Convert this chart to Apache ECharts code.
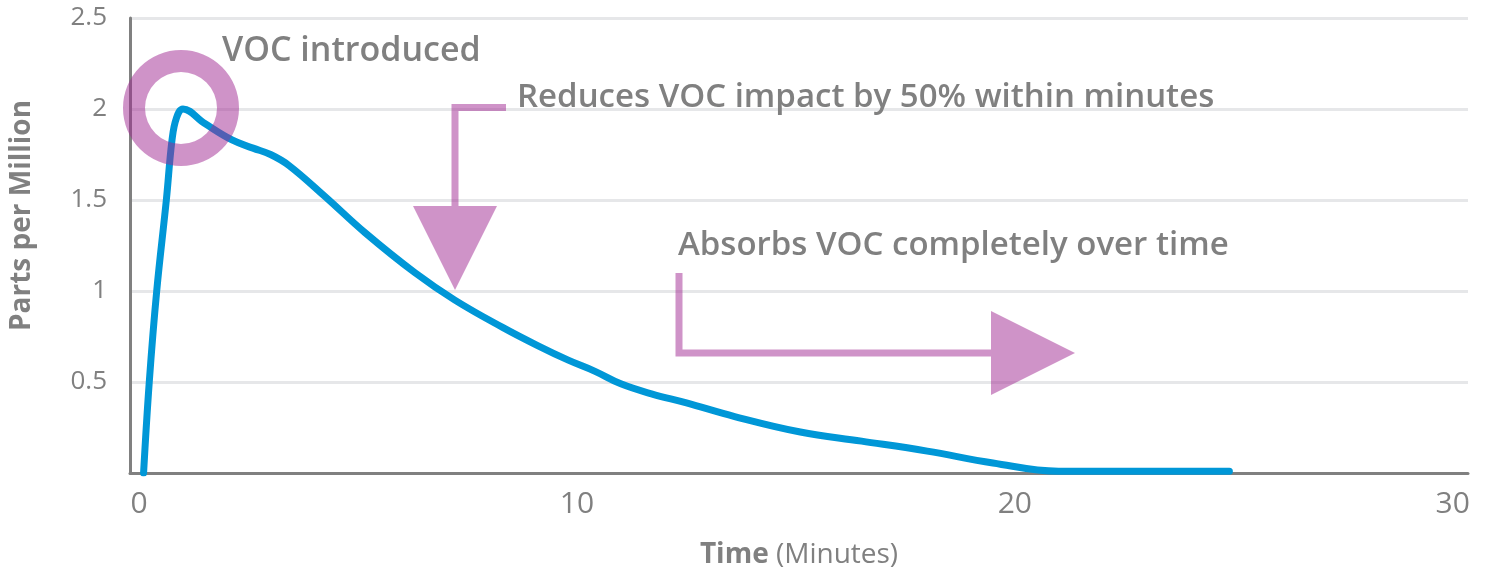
<!DOCTYPE html>
<html>
<head>
<meta charset="utf-8">
<script src="https://cdn.jsdelivr.net/npm/echarts@6/dist/echarts.min.js"></script>
<style>
  html, body { margin: 0; padding: 0; background: #fff; }
  #chart { width: 1486px; height: 574px; }
</style>
</head>
<body>
<div id="chart"></div>
<script>
// time in minutes / parts per million
const timeMin = [0.1, 0.23, 0.4, 0.62, 0.75, 0.85, 1.0, 1.5, 2.12, 2.6, 3.0, 3.42, 4.24, 5.16, 6.3, 7.21, 8.3, 9.1, 9.8, 10.4, 11.0, 11.7, 12.5, 13.6, 15.1, 16.5, 18.0, 19.5, 21.0, 24.9]
const ppm = [0, 0.5, 1.0, 1.5, 1.83, 1.95, 2.0, 1.92, 1.83, 1.785, 1.75, 1.69, 1.52, 1.32, 1.10, 0.95, 0.80, 0.70, 0.62, 0.56, 0.49, 0.435, 0.385, 0.31, 0.225, 0.175, 0.12, 0.055, 0.01, 0.01]
const xTicks = [0, 10, 20, 30]
const notes = ['VOC introduced', 'Reduces VOC impact by 50% within minutes', 'Absorbs VOC completely over time']

const gray = '#808080'
const pink = 'rgba(160,40,145,0.5)'
const font = 'Open Sans'

const chart = echarts.init(document.getElementById('chart'))

const series = timeMin.map((t, i) => [t, ppm[i]])

chart.setOption({
  animation: false,
  textStyle: { fontFamily: font },
  grid: { left: 128, right: 18, top: 18, bottom: 101 },
  xAxis: {
    type: 'value',
    min: -0.21,
    max: 30.35,
    name: '{b|Time} (Minutes)',
    nameLocation: 'middle',
    nameGap: 68,
    nameTextStyle: {
      color: gray, fontSize: 28, fontFamily: font,
      rich: { b: { fontWeight: 'bold', fontSize: 28, color: gray, fontFamily: font } }
    },
    axisLine: { show: true, onZero: false, lineStyle: { color: gray, width: 3 } },
    axisTick: { show: false },
    splitLine: { show: false },
    axisLabel: { customValues: xTicks, color: gray, fontSize: 30, margin: 16 }
  },
  yAxis: {
    type: 'value',
    min: 0,
    max: 2.5,
    interval: 0.5,
    name: 'Parts per Million',
    nameLocation: 'middle',
    nameGap: 94,
    nameTextStyle: { color: gray, fontSize: 28, fontWeight: 'bold', padding: [0, 0, 0, 60] },
    axisLine: { show: true, onZero: false, lineStyle: { color: gray, width: 3 } },
    axisTick: { show: false },
    splitLine: { lineStyle: { color: '#e6e7e9', width: 3 } },
    axisLabel: {
      color: gray, fontSize: 26, margin: 23,
      formatter: v => (v === 0 ? '' : String(v))
    }
  },
  series: [{
    type: 'line',
    data: series,
    smooth: 0.4,
    symbol: 'none',
    lineStyle: { color: '#0097d7', width: 7, cap: 'round', join: 'round' }
  }],
  graphic: [{
    type: 'group',
    z: 100,
    children: [
      // ring around the peak
      { type: 'ring', shape: { cx: 181, cy: 108, r: 58, r0: 36 }, style: { fill: pink }, z: 100 },
      // arrow down
      { type: 'polyline', shape: { points: [[506, 107.5], [455, 107.5], [455, 206]] }, style: { stroke: pink, lineWidth: 7, fill: null }, z: 100 },
      { type: 'polygon', shape: { points: [[413, 206], [497, 206], [455, 290]] }, style: { fill: pink }, z: 100 },
      // arrow right
      { type: 'polyline', shape: { points: [[679, 273], [679, 353], [991, 353]] }, style: { stroke: pink, lineWidth: 7, fill: null }, z: 100 },
      { type: 'polygon', shape: { points: [[991, 311], [991, 395], [1075, 353]] }, style: { fill: pink }, z: 100 },
      // notes
      { type: 'text', x: 222, y: 51, style: { text: notes[0], fill: gray, font: '600 34px "Open Sans"', verticalAlign: 'middle' }, z: 100 },
      { type: 'text', x: 517, y: 98, style: { text: notes[1], fill: gray, font: '600 33px "Open Sans"', verticalAlign: 'middle' }, z: 100 },
      { type: 'text', x: 678, y: 246, style: { text: notes[2], fill: gray, font: '600 33px "Open Sans"', verticalAlign: 'middle' }, z: 100 }
    ]
  }]
})
</script>
</body>
</html>
